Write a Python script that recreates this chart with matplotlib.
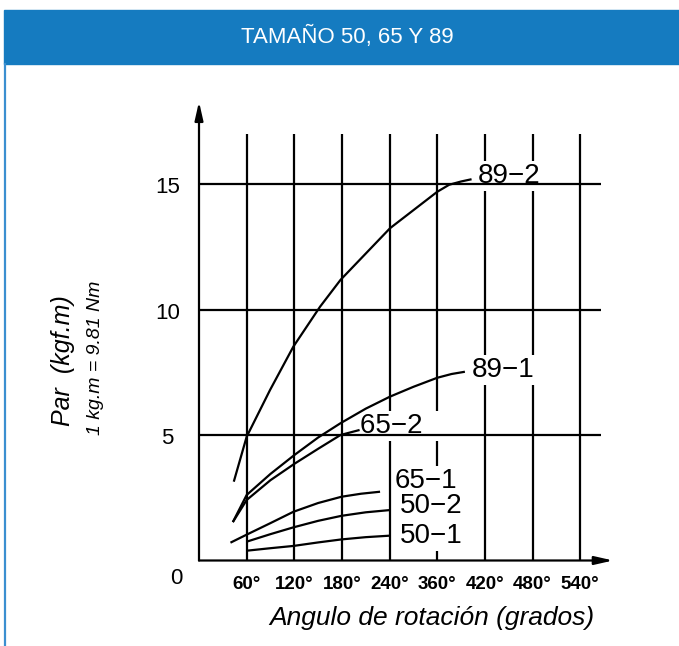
import matplotlib
matplotlib.use('Agg')
import matplotlib.pyplot as plt
from matplotlib.patches import Rectangle
from matplotlib.lines import Line2D

plt.rcParams['font.family'] = ['Liberation Sans', 'DejaVu Sans']

# x is measured in grid columns (1 = 60°, 2 = 120°, ... 8 = 540°)
angle_labels = ['60°', '120°', '180°', '240°', '360°', '420°', '480°', '540°']
torque_ticks = [5, 10, 15]

x_89_2 = [0.73, 1.0, 1.49, 1.98, 2.54, 2.97, 4.01, 5.0, 5.25, 5.5, 5.72]
y_89_2 = [3.14, 4.93, 6.79, 8.52, 10.11, 11.18, 13.24, 14.69, 14.97, 15.1, 15.19]

x_89_1 = [0.71, 1.0, 1.5, 2.0, 2.5, 2.97, 3.5, 4.01, 4.5, 5.0, 5.3, 5.58]
y_89_1 = [1.53, 2.61, 3.45, 4.2, 4.9, 5.47, 6.05, 6.53, 6.92, 7.28, 7.43, 7.52]

x_65_2 = [0.71, 1.0, 1.5, 2.0, 2.5, 2.97, 3.37]
y_65_2 = [1.53, 2.41, 3.2, 3.85, 4.45, 5.0, 5.2]

x_65_1 = [0.66, 1.0, 1.5, 1.98, 2.5, 2.99, 3.4, 3.8]
y_65_1 = [0.71, 1.03, 1.49, 1.94, 2.29, 2.54, 2.66, 2.74]

x_50_2 = [1.0, 1.5, 1.98, 2.5, 2.99, 3.5, 4.01]
y_50_2 = [0.75, 1.05, 1.32, 1.58, 1.78, 1.92, 2.01]

x_50_1 = [1.0, 1.5, 1.98, 2.5, 2.99, 3.5, 4.01]
y_50_1 = [0.39, 0.49, 0.58, 0.72, 0.84, 0.93, 0.99]

# label text, x, y, label anchor (left, baseline)
curves = [
    ('89\u22122', x_89_2, y_89_2, (5.84, 15.04)),
    ('89\u22121', x_89_1, y_89_1, (5.73, 7.31)),
    ('65\u22122  ', x_65_2, y_65_2, (3.38, 5.08)),
    ('65\u22121', x_65_1, y_65_1, (4.10, 2.89)),
    ('50\u22122', x_50_2, y_50_2, (4.22, 1.89)),
    ('50\u22121', x_50_1, y_50_1, (4.22, 0.70)),
]

W, H = 679, 646
fig = plt.figure(figsize=(W / 100, H / 100), dpi=100)
fig.patch.set_facecolor('white')

# header band + left border
fig.patches.append(Rectangle((4 / W, 1 - 64 / H), 675 / W, 54 / H,
                             transform=fig.transFigure, color='#157BC0', zorder=0))
fig.lines.append(Line2D([5 / W, 5 / W], [0, 1 - 64 / H], transform=fig.transFigure,
                        color='#3B8FD0', lw=1.6))
fig.text(347 / W, 1 - 37 / H, 'TAMAÑO 50, 65 Y 89', color='white', fontsize=16,
         ha='center', va='center')

# axes box chosen so that 1 column = 47.65 px and 1 kgf.m = 25.1 px
ax = fig.add_axes([150 / W, 46 / H, 490 / W, 520 / H])
ax.set_xlim(-49 / 47.65, 441 / 47.65)
ax.set_ylim(-39.5 / 25.1, 480.5 / 25.1)
ax.axis('off')

lw = 1.6
n = len(angle_labels)
xs = list(range(1, n + 1))
ax.vlines(xs, 0, 17, color='black', lw=lw, zorder=1)
ax.hlines(torque_ticks, 0, 8.44, color='black', lw=lw, zorder=3)

# axes with arrows
ax.annotate('', xy=(8.69, 0), xytext=(0, 0), zorder=4,
            arrowprops=dict(arrowstyle='-|>,head_length=1.1,head_width=0.25',
                            lw=lw, color='black', mutation_scale=10, shrinkA=0, shrinkB=0))
ax.annotate('', xy=(0, 18.28), xytext=(0, 0), zorder=4,
            arrowprops=dict(arrowstyle='-|>,head_length=1.1,head_width=0.25',
                            lw=lw, color='black', mutation_scale=10, shrinkA=0, shrinkB=0))

for name, cx, cy, pos in curves:
    ax.plot(cx, cy, color='black', lw=lw, zorder=3, solid_capstyle='butt')
    ax.text(pos[0], pos[1], name, fontsize=20, ha='left', va='baseline', zorder=2,
            bbox=dict(facecolor='white', edgecolor='none', pad=1.5))

for x, lab in zip(xs, angle_labels):
    ax.text(x, -1.12, lab, fontsize=13.5, fontweight='bold', ha='center', va='baseline')
for t in torque_ticks:
    ax.text(-0.66, t - 0.36, str(t), fontsize=16, ha='center', va='baseline')
ax.text(-0.47, -0.94, '0', fontsize=16, ha='center', va='baseline')

fig.text(63 / W, 1 - 361 / H, 'Par  (kgf.m)', rotation=90, style='italic',
         fontsize=18, ha='center', va='center')
fig.text(95 / W, 1 - 358 / H, '1 kg.m = 9.81 Nm', rotation=90, style='italic',
         fontsize=14, ha='center', va='center')
fig.text(432 / W, 1 - 618 / H, 'Angulo de rotación (grados)', style='italic',
         fontsize=19, ha='center', va='center')

fig.savefig('out.png', dpi=100)
